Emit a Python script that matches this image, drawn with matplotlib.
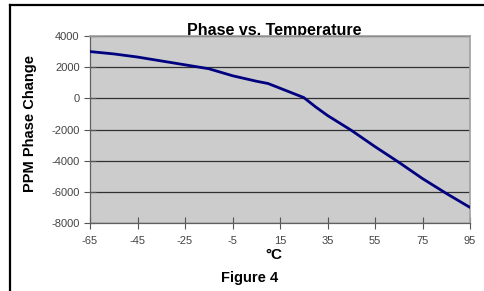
import matplotlib
matplotlib.use("Agg")
import matplotlib.pyplot as plt
from matplotlib.lines import Line2D

plt.rcParams['font.family'] = ['Liberation Sans', 'DejaVu Sans']

temps = [-65, -55, -45, -35, -25, -15, -5, 5, 10, 15, 20, 25, 30, 35, 45, 55, 65, 75, 85, 95]
ppm = [3000, 2850, 2650, 2400, 2150, 1900, 1450, 1100, 950, 650, 350, 50, -550, -1100, -2050, -3100, -4100, -5150, -6100, -7000]
xticks = [-65, -45, -25, -5, 15, 35, 55, 75, 95]
yticks = [-8000, -6000, -4000, -2000, 0, 2000, 4000]

fig = plt.figure(figsize=(4.84, 2.91), dpi=100)
ax = fig.add_axes([90/484, 1-223/291, 380/484, 187/291])
ax.set_facecolor('#cccccc')
ax.plot(temps, ppm, color='#000080', lw=2.0, solid_capstyle='round', zorder=3)
ax.set_xlim(-65, 95)
ax.set_ylim(-8000, 4000)
ax.set_xticks(xticks)
ax.set_yticks(yticks)
ax.set_xticklabels([str(t) for t in xticks])
ax.set_yticklabels([str(t) for t in yticks])
ax.grid(axis='y', color='#303030', lw=0.9)
ax.tick_params(axis='both', labelsize=8, labelcolor='#444444', color='#555555',
               direction='inout', length=8, width=0.8)
ax.tick_params(axis='y', pad=3.5)
ax.tick_params(axis='x', pad=5)
for s in ['top', 'right']:
    ax.spines[s].set_color('#a0a0a0')
    ax.spines[s].set_linewidth(1.2)
for s in ['left', 'bottom']:
    ax.spines[s].set_color('#606060')
    ax.spines[s].set_linewidth(0.9)

fig.text(274/484, 1-35/291, 'Phase vs. Temperature', fontsize=11.5, fontweight='bold',
         ha='center', va='baseline', zorder=-1)
fig.text(274/484, 1-255/291, '°C', fontsize=11, fontweight='bold', ha='center', va='center')
fig.text(250/484, 1-278/291, 'Figure 4', fontsize=10.5, fontweight='bold', ha='center', va='center')
fig.text(30/484, 1-123/291, 'PPM Phase Change', fontsize=10.5, fontweight='bold',
         ha='center', va='center', rotation=90)

fig.add_artist(Line2D([10/484, 10/484], [0, 1-5/291], transform=fig.transFigure, color='black', lw=1.6))
fig.add_artist(Line2D([10/484, 1], [1-5/291, 1-5/291], transform=fig.transFigure, color='black', lw=1.6))

fig.savefig('out.png', dpi=100)
